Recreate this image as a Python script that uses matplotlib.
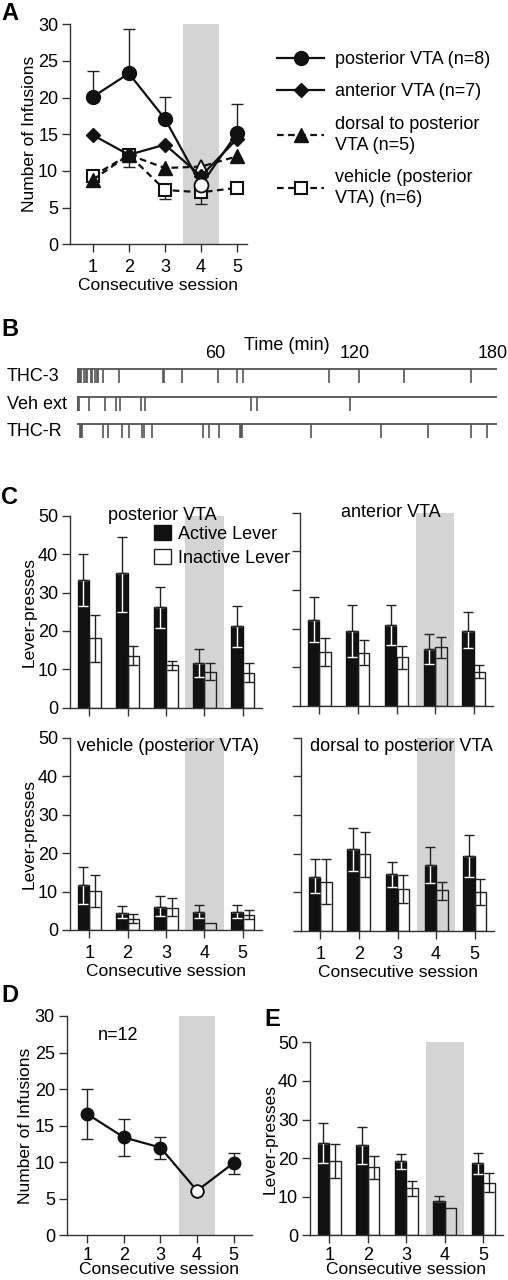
import numpy as np
import matplotlib
matplotlib.use('Agg')
import matplotlib.pyplot as plt
from matplotlib import rcParams

rcParams['font.family'] = ['Liberation Sans', 'DejaVu Sans']
rcParams['font.size'] = 12.5
rcParams['axes.linewidth'] = 1.0
rcParams['axes.edgecolor'] = '#333333'

# ---- data ----
sessions = np.array([1, 2, 3, 4, 5])

# A: infusions per group
post_mean = [20.1, 23.3, 17.1, 8.1, 15.2]
post_hi = [23.7, 29.3, 20.1, 8.1, 19.2]
ant_mean = [14.9, 12.2, 13.6, 9.3, 14.4]
dors_mean = [8.8, 12.2, 10.4, 10.6, 12.0]
veh_mean = [9.3, 12.2, 7.4, 7.1, 7.7]
veh_lo = [8.0, 10.5, 6.2, 5.5, 7.0]

# B: event times (min)
thc3_times = [0.2, 0.6, 1.0, 1.4, 1.9, 3.2, 3.8, 4.2, 5.9, 6.5, 7.9, 8.5, 9.1, 11.4,
              18.3, 37.1, 37.7, 45.6, 61.2, 69.2, 72.0, 108.9, 122.2, 141.7, 170.7]
veh_times = [0.2, 0.6, 1.0, 5.2, 12.1, 16.9, 18.6, 27.6, 29.5, 75.2, 78.1, 118.3]
thcr_times = [1.4, 1.9, 2.3, 11.4, 13.6, 19.4, 22.5, 28.0, 29.0, 32.4, 54.5, 57.3,
              61.5, 70.6, 71.1, 71.5, 101.4, 131.7, 151.9, 170.4, 177.5]
raster_rows = ['THC-3', 'Veh ext', 'THC-R']

# C: lever presses (mean, upper, lower)
post_act = [33.3, 35.0, 26.1, 11.6, 21.3]
post_act_hi = [40.0, 44.5, 31.5, 15.2, 26.6]
post_act_lo = [26.5, 24.9, 20.7, 7.9, 15.9]
post_ina = [18.1, 13.5, 11.1, 9.4, 9.1]
post_ina_hi = [24.1, 16.1, 12.2, 11.6, 11.6]
post_ina_lo = [12.0, 11.1, 9.8, 7.2, 6.8]

ant_act = [22.2, 19.4, 21.0, 14.7, 19.4]
ant_act_hi = [28.1, 26.1, 26.1, 18.5, 24.2]
ant_act_lo = [16.5, 12.8, 15.8, 10.9, 14.9]
ant_ina = [14.0, 13.8, 12.6, 15.3, 8.9]
ant_ina_hi = [17.7, 17.1, 15.5, 17.9, 10.6]
ant_ina_lo = [10.3, 10.6, 9.6, 12.3, 7.2]

veh_act = [11.7, 4.5, 6.1, 4.6, 4.6]
veh_act_hi = [16.3, 6.3, 8.8, 6.5, 6.5]
veh_act_lo = [6.8, 3.0, 3.6, 3.0, 3.2]
veh_ina = [10.2, 2.8, 5.8, 1.7, 3.9]
veh_ina_hi = [14.3, 4.1, 8.4, np.nan, 5.2]
veh_ina_lo = [6.1, 1.7, 3.6, np.nan, 2.8]

dor_act = [14.0, 21.1, 14.7, 17.2, 19.4]
dor_act_hi = [18.6, 26.7, 17.9, 21.8, 24.8]
dor_act_lo = [9.8, 15.5, 11.5, 12.5, 14.0]
dor_ina = [12.8, 19.8, 10.8, 10.6, 10.2]
dor_ina_hi = [18.6, 25.7, 14.5, 12.8, 13.5]
dor_ina_lo = [7.0, 14.0, 7.2, 8.0, 6.7]

# D: infusions n=12
d_mean = [16.6, 13.4, 12.0, 6.1, 9.9]
d_hi = [20.0, 15.9, 13.5, 6.1, 11.3]
d_lo = [13.2, 10.8, 10.5, 6.1, 8.4]

# E: lever presses n=12
e_act = [24.0, 23.4, 19.2, 9.0, 18.7]
e_act_hi = [29.2, 28.1, 21.1, 10.2, 21.2]
e_act_lo = [18.7, 18.4, 17.3, np.nan, 15.9]
e_ina = [19.3, 17.6, 12.2, 7.1, 13.6]
e_ina_hi = [23.7, 20.5, 14.1, np.nan, 16.1]
e_ina_lo = [14.9, 14.6, 10.2, np.nan, 11.3]

SHADE = '#d4d4d4'
W, H = 508, 1280
fig = plt.figure(figsize=(W / 100, H / 100), dpi=100)


def add_ax(l, t, r, b):
    return fig.add_axes([l / W, 1 - b / H, (r - l) / W, (b - t) / H])


def style(ax, xlim, ymax, ystep, xlabels=True, ylabels=True, xpad=5, labelpad=1.5):
    for s in ['top', 'right']:
        ax.spines[s].set_visible(False)
    ax.set_xlim(*xlim)
    ax.set_ylim(0, ymax)
    ax.set_xticks(sessions)
    ax.set_yticks(np.arange(0, ymax + 1, ystep))
    ax.tick_params(direction='out', length=5.5, width=1, color='#333333', pad=3,
                   labelsize=13, labelbottom=xlabels, labelleft=ylabels)
    ax.tick_params(axis='x', pad=xpad)
    if xlabels:
        ax.set_xlabel('Consecutive session', labelpad=labelpad)
    ax.axvspan(3.5, 4.5, color=SHADE, lw=0, zorder=0)


def lever_panel(ax, act, act_hi, act_lo, ina, ina_hi, ina_lo):
    act, act_hi, act_lo = map(np.array, (act, act_hi, act_lo))
    ina, ina_hi, ina_lo = map(np.array, (ina, ina_hi, ina_lo))
    xa = sessions - 0.15
    xi = sessions + 0.15
    ba = ax.bar(xa, act, 0.3, color='#111111', edgecolor='#111111', lw=1, zorder=2,
                label='Active Lever')
    bi = ax.bar(xi, ina, 0.3, facecolor='none', edgecolor='#222222', lw=1, zorder=2,
                label='Inactive Lever')
    zero = np.zeros(5)
    ax.errorbar(xa, act, yerr=[act - act_lo, zero], fmt='none', ecolor='white',
                elinewidth=1, capsize=3.5, capthick=1, zorder=3)
    ax.errorbar(xa, act, yerr=[zero, act_hi - act], fmt='none', ecolor='#222222',
                elinewidth=1, capsize=3.5, capthick=1, zorder=4)
    ax.errorbar(xi, ina, yerr=[ina - ina_lo, ina_hi - ina], fmt='none', ecolor='#222222',
                elinewidth=1, capsize=3.5, capthick=1, zorder=4)
    return ba, bi


def letter(x, y, s):
    fig.text(x / W, 1 - y / H, s, fontsize=17, fontweight='bold', ha='left', va='center')


# ---- A ----
axA = add_ax(70, 24.3, 247, 244.3)
style(axA, (0.37, 5.27), 30, 5)
axA.set_ylabel('Number of Infusions', labelpad=1)
pm = np.array(post_mean)
vm = np.array(veh_mean)
axA.errorbar(sessions, pm, yerr=[np.zeros(5), np.array(post_hi) - pm], fmt='none',
             ecolor='#222222', elinewidth=1, capsize=4, zorder=2)
axA.errorbar(sessions, vm, yerr=[vm - np.array(veh_lo), np.zeros(5)], fmt='none',
             ecolor='#222222', elinewidth=1, capsize=4, zorder=2)
lv, = axA.plot(sessions, veh_mean, color='#111111', lw=1.6, ls=(0, (3, 2)), marker='s',
               ms=9, mfc='white', mec='#111111', mew=1.5, zorder=3,
               label='vehicle (posterior\nVTA) (n=6)')
ld, = axA.plot(sessions, dors_mean, color='#111111', lw=1.6, ls=(0, (3, 2)), marker='^',
               ms=9.5, mfc='#111111', mec='#111111', zorder=4,
               label='dorsal to posterior\nVTA (n=5)')
axA.plot(sessions[3], dors_mean[3], marker='^', ms=9.5, mfc='white', mec='#111111',
         mew=1.3, zorder=4.5)
la, = axA.plot(sessions, ant_mean, color='#111111', lw=1.6, marker='D', ms=7.5,
               mfc='#111111', mec='#111111', zorder=5, label='anterior VTA (n=7)')
lp, = axA.plot(sessions, post_mean, color='#111111', lw=1.6, marker='o', ms=10,
               mfc='#111111', mec='#111111', zorder=6, label='posterior VTA (n=8)')
axA.plot(sessions[3], post_mean[3], marker='o', ms=10, mfc='white', mec='#111111',
         mew=1.3, zorder=6.5)
legA = fig.legend(handles=[lp, la, ld, lv], loc='upper left',
                  bbox_to_anchor=(268 / W, 1 - 42 / H), frameon=False, handlelength=2.6,
                  handletextpad=0.6, labelspacing=0.85, borderpad=0, fontsize=13)
for t in legA.get_texts():
    t.set_linespacing(1.3)
letter(1, 14, 'A')

# ---- B ----
axB = add_ax(77, 361, 497, 440.8)
axB.set_xlim(0, 181.8)
axB.set_ylim(2.6, -0.3)
for s in axB.spines.values():
    s.set_visible(False)
axB.set_yticks([])
axB.set_xticks([60, 120, 180])
axB.tick_params(top=False, bottom=False, labeltop=True, labelbottom=False, length=0,
                pad=-1, labelsize=13)
axB.xaxis.set_label_position('top')
axB.set_xlabel('Time (min)', labelpad=-3, fontsize=13)
for i, times in enumerate([thc3_times, veh_times, thcr_times]):
    axB.hlines(i, 0, 181.8, color='#444444', lw=1.2)
    axB.vlines(times, i, i + 0.5, color='#555555', lw=1.2)
    axB.text(-30.3, i + 0.27, raster_rows[i], ha='left', va='center', fontsize=13)
letter(1, 330, 'B')

# ---- C ----
axC1 = add_ax(70, 515.7, 262, 707.7)
style(axC1, (0.5, 5.5), 50, 10, xlabels=False)
axC1.set_ylabel('Lever-presses', labelpad=1)
ba, bi = lever_panel(axC1, post_act, post_act_hi, post_act_lo, post_ina, post_ina_hi, post_ina_lo)
axC1.text(2.9, 50, 'posterior VTA', ha='center', va='center', fontsize=13)
axC1.legend(handles=[ba, bi], loc='upper left', bbox_to_anchor=(0.44, 0.95), frameon=False,
            handlelength=0.9, handleheight=0.9, handletextpad=0.4, labelspacing=0.35,
            borderpad=0, borderaxespad=0, fontsize=13)

axC2 = add_ax(300, 512.7, 493, 706)
style(axC2, (0.5, 5.5), 50, 10, xlabels=False, ylabels=False)
lever_panel(axC2, ant_act, ant_act_hi, ant_act_lo, ant_ina, ant_ina_hi, ant_ina_lo)
axC2.text(2.84, 50, 'anterior VTA', ha='center', va='center', fontsize=13)

axC3 = add_ax(70, 737.7, 262, 930)
style(axC3, (0.5, 5.5), 50, 10)
axC3.set_ylabel('Lever-presses', labelpad=1)
lever_panel(axC3, veh_act, veh_act_hi, veh_act_lo, veh_ina, veh_ina_hi, veh_ina_lo)
axC3.text(0.68, 47.6, 'vehicle (posterior VTA)', ha='left', va='center', fontsize=13)

axC4 = add_ax(301, 737.7, 494, 931)
style(axC4, (0.5, 5.5), 50, 10, ylabels=False)
lever_panel(axC4, dor_act, dor_act_hi, dor_act_lo, dor_ina, dor_ina_hi, dor_ina_lo)
axC4.text(3.11, 47.7, 'dorsal to posterior VTA', ha='center', va='center', fontsize=13)
letter(1, 497, 'C')

# ---- D ----
axD = add_ax(66.7, 1016, 252, 1235.3)
style(axD, (0.44, 5.5), 30, 5, xpad=3, labelpad=-1.5)
axD.set_ylabel('Number of Infusions', labelpad=1)
dm = np.array(d_mean)
axD.errorbar(sessions, dm, yerr=[dm - np.array(d_lo), np.array(d_hi) - dm], fmt='none',
             ecolor='#222222', elinewidth=1, capsize=4, zorder=2)
axD.plot(sessions, d_mean, color='#111111', lw=1.6, marker='o', ms=9, mfc='#111111',
         mec='#111111', zorder=3)
axD.plot(sessions[3], d_mean[3], marker='o', ms=9, mfc='white', mec='#111111', mew=1.3,
         zorder=4)
axD.text(1.85, 27.4, 'n=12', ha='center', va='center', fontsize=13)
letter(1, 995, 'D')

# ---- E ----
axE = add_ax(310, 1042.3, 503, 1235.3)
style(axE, (0.5, 5.51), 50, 10, xpad=3, labelpad=-1.5)
axE.set_ylabel('Lever-presses', labelpad=0)
lever_panel(axE, e_act, e_act_hi, e_act_lo, e_ina, e_ina_hi, e_ina_lo)
letter(264, 1020, 'E')

fig.savefig('out.png', dpi=100)
